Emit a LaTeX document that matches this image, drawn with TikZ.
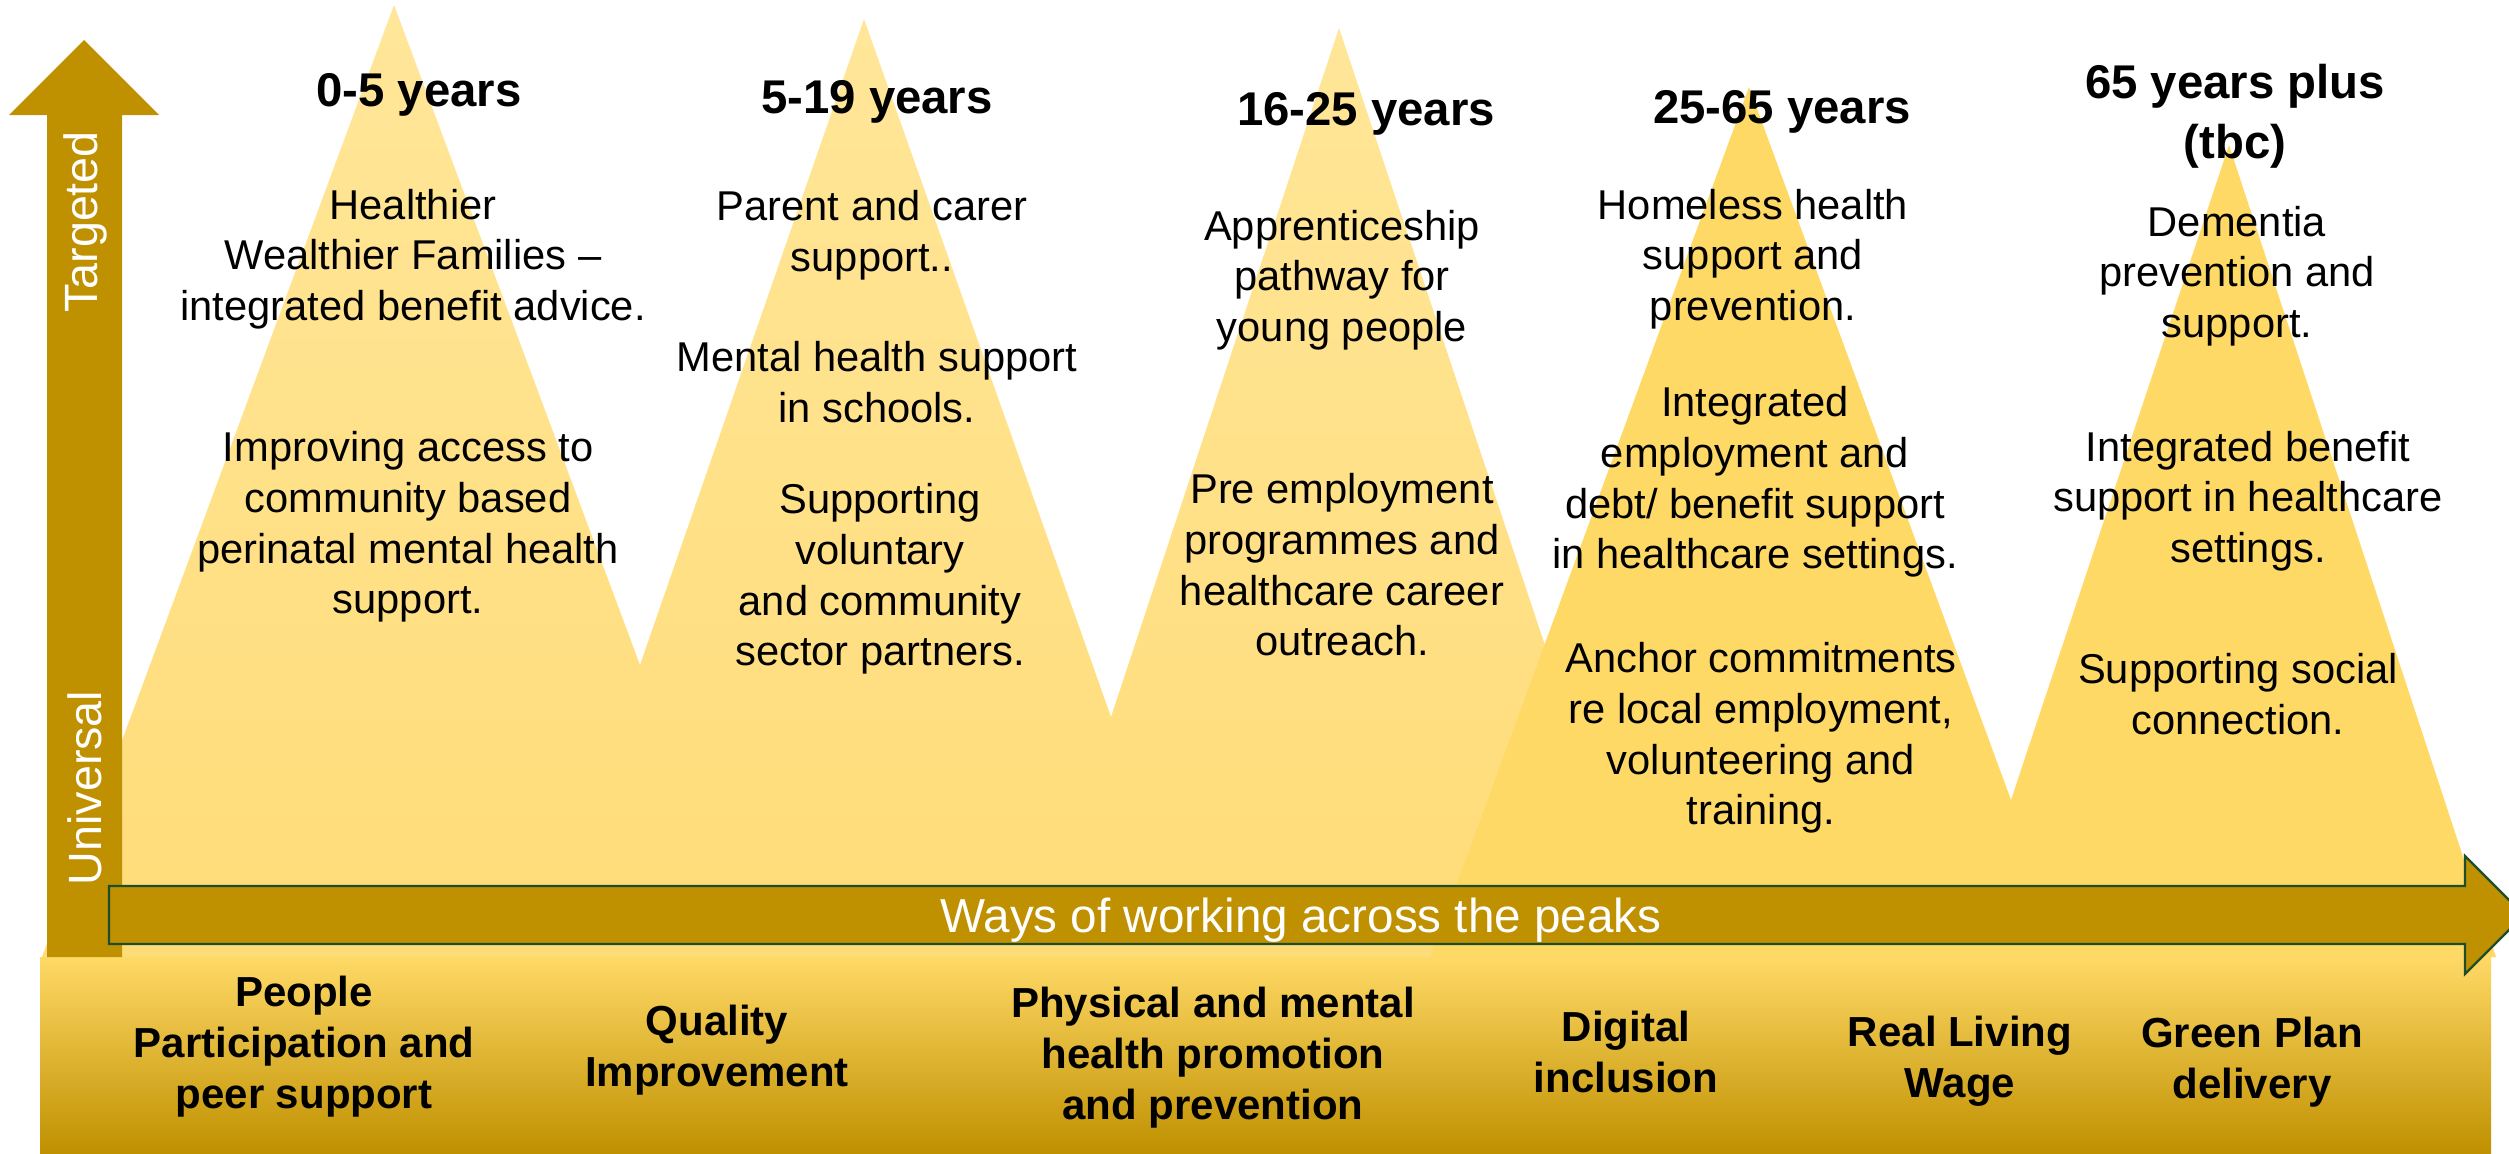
\documentclass[tikz,border=0pt]{standalone}
\usepackage{fontspec}
\setmainfont{Liberation Sans}
\usepackage{xcolor}
\usetikzlibrary{positioning}
\definecolor{goldDark}{HTML}{BF9000}
\definecolor{peakPale}{HTML}{FFE699}
\definecolor{peakPaleLow}{HTML}{FFDC78}
\definecolor{peakGold}{HTML}{FFD966}
\definecolor{arrowEdge}{HTML}{1E4D2B}

\begin{document}
\begin{tikzpicture}[x=0.3pt, y=-0.3pt,
    agetitle/.style={font=\bfseries\fontsize{14.2}{18}\selectfont, align=center, inner sep=0pt},
    peaktext/.style={font=\fontsize{12.5}{15.2}\selectfont, align=center, inner sep=0pt},
    waytext/.style={font=\bfseries\fontsize{12.6}{15.3}\selectfont, align=center, inner sep=0pt},
    axistext/.style={font=\fontsize{14}{16}\selectfont, text=white, rotate=90, inner sep=0pt}]
    \useasboundingbox (0,0) rectangle (2509,1154);

    % peaks
    \shade[top color=peakPale, bottom color=peakPaleLow]
      (42,957) -- (394,5) -- (640,665) -- (864,19) -- (1111,717) -- (1339,28) -- (1649,957) -- cycle;
    \fill[peakGold] (1430,957) -- (1749,87) -- (2011,800) -- (2229,145) -- (2496,957) -- cycle;

    % band and arrows
    \shade[top color=peakGold, bottom color=goldDark] (40,957) rectangle (2491,1154);
    \fill[goldDark] (47,957) -- (47,115) -- (9,115) -- (84,40) -- (159,115) -- (122,115) -- (122,957) -- cycle;
    \filldraw[fill=goldDark, draw=arrowEdge, line width=0.7pt]
      (109,886) -- (2465,886) -- (2465,856) -- (2524,915) -- (2465,974) -- (2465,944) -- (109,944) -- cycle;

    \node[axistext] (targeted) at (85,222) {Targeted};
    \node[axistext] (universal) at (85,788) {Universal};
    \node[font=\fontsize{14.3}{16}\selectfont, text=white, inner sep=0pt] (ways) at (1301,920) {Ways of working across the peaks};

    \begin{scope}[shift={(0,6)}]
    % age groups
    \node[agetitle] (t05) at (419,89) {0-5 years};
    \node[agetitle] (t519) at (877,96) {5-19 years};
    \node[agetitle] (t1625) at (1366,108) {16-25 years};
    \node[agetitle] (t2565) at (1782,106) {25-65 years};
    \node[agetitle] (t65) at (2235,110) {65 years plus\\(tbc)};

    \node[peaktext] (p1a) at (413,253) {Healthier\\Wealthier Families –\\integrated benefit advice.};
    \node[peaktext] (p1b) at (408,521) {Improving access to\\community based\\perinatal mental health\\support.};
    \node[peaktext] (p2a) at (872,229) {Parent and carer\\support..};
    \node[peaktext] (p2b) at (877,376) {Mental health support\\in schools.};
    \node[peaktext] (p2c) at (880,573) {Supporting\\voluntary\\and community\\sector partners.};
    \node[peaktext] (p3a) at (1342,274) {Apprenticeship\\pathway for\\young people};
    \node[peaktext] (p3b) at (1342,559) {Pre employment\\programmes and\\healthcare career\\outreach.};
    \node[peaktext] (p4a) at (1753,253) {Homeless health\\support and\\prevention.};
    \node[peaktext] (p4b) at (1755,476) {Integrated\\employment and\\debt/ benefit support\\in healthcare settings.};
    \node[peaktext] (p4c) at (1761,732) {Anchor commitments\\re local employment,\\volunteering and\\training.};
    \node[peaktext] (p5a) at (2237,270) {Dementia\\prevention and\\support.};
    \node[peaktext] (p5b) at (2248,495) {Integrated benefit\\support in healthcare\\settings.};
    \node[peaktext] (p5c) at (2238,688) {Supporting social\\connection.};

    % ways of working
    \node[waytext] (w1) at (304,1041) {People\\Participation and\\peer support};
    \node[waytext] (w2) at (717,1044) {Quality\\Improvement};
    \node[waytext] (w3) at (1213,1052) {Physical and mental\\health promotion\\and prevention};
    \node[waytext] (w4) at (1626,1046) {Digital\\inclusion};
    \node[waytext] (w5) at (1960,1055) {Real Living\\Wage};
    \node[waytext] (w6) at (2252,1056) {Green Plan\\delivery};
    \end{scope}
\end{tikzpicture}
\end{document}
